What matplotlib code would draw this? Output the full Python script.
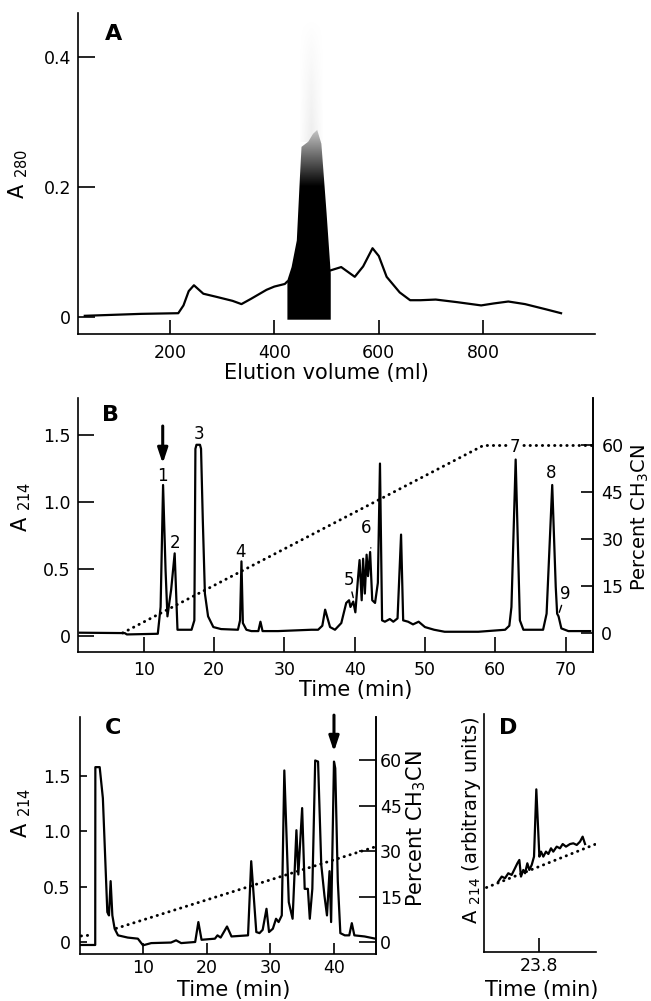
import numpy as np
import matplotlib
matplotlib.use('Agg')
import matplotlib.pyplot as plt
from matplotlib.patches import Polygon

# ---- panel A: gel filtration (A280 vs elution volume, ml)
a_ml = [37, 145, 216, 226, 236, 246, 264, 290, 320, 337, 355, 385, 400, 420, 425,
        508, 528, 554, 570, 588, 600, 615, 640, 660, 680, 709, 750, 796, 820, 848,
        880, 920, 949]
a_abs = [0.002, 0.005, 0.006, 0.018, 0.040, 0.049, 0.036, 0.031, 0.025, 0.020,
         0.028, 0.042, 0.047, 0.051, 0.055, 0.072, 0.077, 0.062, 0.078, 0.106,
         0.094, 0.062, 0.038, 0.026, 0.026, 0.027, 0.023, 0.018, 0.021, 0.024,
         0.020, 0.012, 0.006]
# pooled (shaded) fraction
frac_ml = [425, 425, 433, 443, 449, 452, 465, 474, 482, 490, 500, 508, 508]
frac_abs = [-0.004, 0.057, 0.077, 0.118, 0.216, 0.262, 0.270, 0.282, 0.288,
            0.267, 0.160, 0.067, -0.004]

# ---- panel B: HPLC, A214 vs time (min)
b_time = [0.9, 7.3, 7.6, 12.0, 12.4, 12.75, 13.1, 13.37, 13.9, 14.4, 14.8, 15.35,
          16.8, 17.2, 17.35, 17.5, 18.0, 18.15, 18.4, 18.7, 19.15, 19.9, 21.0,
          23.4, 23.7, 23.9, 24.1, 24.6, 25.3, 26.3, 26.6, 26.9, 29.1, 33.85, 34.8,
          35.4, 35.8, 36.5, 37.2, 38.1, 38.8, 39.2, 39.4, 39.8, 40.1, 40.5, 40.7,
          41.0, 41.2, 41.45, 41.7, 41.9, 42.2, 42.5, 42.9, 43.3, 43.6, 43.9, 44.3,
          45.0, 45.5, 46.1, 46.6, 46.9, 47.6, 48.3, 49.1, 50.0, 51.3, 52.8, 57.6,
          61.4, 62.0, 62.3, 62.9, 63.5, 64.0, 66.8, 67.3, 68.1, 68.6, 68.8, 69.0,
          69.4, 70.4, 73.5]
b_abs = [0.028, 0.025, 0.015, 0.02, 0.22, 1.13, 0.5, 0.15, 0.35, 0.62, 0.05, 0.05,
         0.05, 0.12, 1.40, 1.43, 1.43, 1.40, 0.87, 0.32, 0.15, 0.07, 0.055,
         0.05, 0.12, 0.56, 0.10, 0.05, 0.04, 0.04, 0.11, 0.04, 0.04, 0.05, 0.05,
         0.08, 0.20, 0.07, 0.05, 0.10, 0.25, 0.27, 0.22, 0.26, 0.18, 0.45, 0.57,
         0.27, 0.58, 0.32, 0.61, 0.45, 0.63, 0.27, 0.25, 0.4, 1.29, 0.12, 0.11,
         0.13, 0.11, 0.135, 0.76, 0.12, 0.11, 0.09, 0.11, 0.07, 0.05, 0.035, 0.035,
         0.05, 0.08, 0.22, 1.32, 0.12, 0.05, 0.05, 0.17, 1.13, 0.37, 0.17, 0.15,
         0.06, 0.04, 0.04]
grad_b_t = [7.0, 58.3, 73.9]
grad_b_pct = [0, 60, 60]
peak_names = ['1', '2', '3', '4', '5', '6', '7', '8', '9']
peak_t = [12.6, 14.4, 17.8, 23.8, 39.2, 41.7, 62.8, 67.9, 70.0]
peak_a = [1.20, 0.70, 1.51, 0.63, 0.42, 0.81, 1.41, 1.22, 0.32]
leader_t = [None, None, None, None, 39.8, 42.3, None, None, 69.1]
leader_a = [None, None, None, None, 0.29, 0.66, None, None, 0.18]

# ---- panel C: rechromatography of peak 1
c_time = [0.1, 2.5, 2.52, 3.2, 3.7, 4.4, 4.66, 4.92, 5.19, 5.55, 6.08, 7.6, 9.2,
          10.0, 11.3, 14.4, 15.2, 16.0, 18.2, 18.7, 19.2, 21.3, 21.7, 22.2, 23.2,
          23.9, 26.5, 27.0, 27.8, 28.3, 28.8, 29.4, 29.8, 30.4, 30.9, 31.3, 31.8,
          32.2, 32.9, 33.5, 34.1, 34.4, 35.0, 35.4, 35.9, 36.2, 36.6, 37.05, 37.5,
          38.0, 38.5, 38.9, 39.3, 39.55, 40.0, 40.2, 40.6, 41.0, 41.7, 42.4, 42.8,
          43.2, 44.8, 46.5]
c_abs = [-0.027, -0.027, 1.58, 1.58, 1.30, 0.27, 0.24, 0.55, 0.24, 0.12, 0.06,
         0.04, 0.03, -0.03, -0.01, -0.005, 0.015, -0.01, 0.0, 0.18, 0.02, 0.03,
         0.06, 0.04, 0.14, 0.05, 0.06, 0.73, 0.09, 0.08, 0.11, 0.30, 0.09, 0.12,
         0.21, 0.18, 0.24, 1.55, 0.36, 0.21, 1.01, 0.61, 1.21, 0.48, 0.48, 0.21,
         0.48, 1.64, 1.63, 0.70, 0.42, 0.24, 0.64, 0.18, 1.63, 1.57, 0.55, 0.08,
         0.06, 0.06, 0.17, 0.06, 0.05, 0.03]
grad_c1_t = [0.3, 2.0]
grad_c1_pct = [2.0, 2.3]
grad_c2_t = [5.8, 46.6]
grad_c2_pct = [4.5, 31.5]

# ---- panel D: final purity check
d_time = [23.428, 23.459, 23.489, 23.519, 23.55, 23.58, 23.602, 23.62, 23.635,
          23.656, 23.672, 23.693, 23.711, 23.733, 23.754, 23.775, 23.803, 23.818,
          23.839, 23.863, 23.885, 23.909, 23.93, 23.961, 23.991, 24.016, 24.046,
          24.083, 24.113, 24.144, 24.174, 24.198, 24.22]
d_abs = [0.295, 0.316, 0.309, 0.330, 0.323, 0.351, 0.372, 0.386, 0.316, 0.344,
         0.330, 0.372, 0.344, 0.365, 0.400, 0.683, 0.400, 0.421, 0.400, 0.421,
         0.411, 0.435, 0.421, 0.442, 0.435, 0.453, 0.442, 0.453, 0.456, 0.449,
         0.463, 0.484, 0.453]
d_base_t = [23.32, 24.33]
d_base = [0.27, 0.455]

plt.rcParams['font.family'] = ['DejaVu Sans']
plt.rcParams['mathtext.fontset'] = 'dejavusans'

W, H = 651.0, 1001.0
fig = plt.figure(figsize=(W / 100, H / 100), dpi=100)


def box(l, t, r, b):
    return [l / W, 1 - b / H, (r - l) / W, (b - t) / H]


def style(ax, keep):
    for s in ['left', 'right', 'top', 'bottom']:
        ax.spines[s].set_visible(s in keep)
        ax.spines[s].set_linewidth(1.2)
    ax.tick_params(direction='in', width=1.2, labelsize=12.5)


TRACE = dict(color='k', lw=1.6)
DOTS = dict(color='k', lw=2.1, ls=(0, (0.1, 2.0)), dash_capstyle='round')
LAB = 15

# ================= A
axA = fig.add_axes(box(78, 13, 595, 334))
style(axA, ('left', 'bottom'))
axA.plot(a_ml, a_abs, **TRACE)
poly = Polygon(np.column_stack([frac_ml, frac_abs]), closed=True, fc='none', ec='none')
axA.add_patch(poly)
rows = np.linspace(-0.005, 0.30, 200)
shade = np.clip((rows - 0.20) / 0.09, 0, 1) * 0.8
im = axA.imshow(np.tile(shade[:, None], (1, 2)), cmap='gray', vmin=0, vmax=1,
                origin='lower', extent=[420, 512, -0.005, 0.30], aspect='auto',
                interpolation='bilinear', zorder=3)
im.set_clip_path(poly)
# faint smear above the pooled peak
yy, xx = np.mgrid[0:1:100j, -1:1:40j]
smear = np.zeros((100, 40, 4))
smear[..., :3] = 0.55
smear[..., 3] = 0.16 * (1 - yy) * np.clip(1 - np.abs(xx), 0, 1)
axA.imshow(smear, origin='lower', extent=[448, 494, 0.27, 0.46], aspect='auto',
           interpolation='bilinear', zorder=1)
axA.set_xlim(24, 1014)
axA.set_ylim(-0.026, 0.468)
axA.set_xticks([200, 400, 600, 800])
axA.set_yticks([0, 0.2, 0.4], ['0', '0.2', '0.4'])
axA.tick_params(axis='x', length=10, pad=7)
axA.tick_params(axis='y', length=12, pad=5)
axA.set_xlabel('Elution volume (ml)', fontsize=LAB, va='center')
axA.xaxis.set_label_coords(0.48, -0.12)
axA.set_ylabel(r'A $_{\mathregular{280}}$', fontsize=LAB, va='center')
axA.yaxis.set_label_coords(-0.116, 0.50)
axA.text(0.068, 0.935, 'A', transform=axA.transAxes, fontsize=16,
         fontweight='bold', ha='center', va='center')

# ================= B
axB = fig.add_axes(box(78, 398, 593, 652))
axB2 = axB.twinx()
style(axB, ('left', 'bottom', 'right'))
style(axB2, ('right',))
axB.set_zorder(axB2.get_zorder() + 1)
axB.patch.set_visible(False)
axB.plot(b_time, b_abs, **TRACE)
axB2.plot(grad_b_t, grad_b_pct, **DOTS)
axB.set_xlim(0.65, 73.9)
axB.set_ylim(-0.116, 1.779)
axB2.set_ylim(-6.1, 75.2)
axB.set_xticks([10, 20, 30, 40, 50, 60, 70])
axB.set_yticks([0, 0.5, 1.0, 1.5], ['0', '0.5', '1.0', '1.5'])
axB2.set_yticks([0, 15, 30, 45, 60])
axB.tick_params(axis='x', length=11, pad=6.5)
axB.tick_params(axis='y', length=11.5, pad=5.4)
axB2.tick_params(axis='y', length=9, pad=6)
for name, t, a, lt, la in zip(peak_names, peak_t, peak_a, leader_t, leader_a):
    kw = dict(fontsize=12, ha='center', va='center')
    if name == '7':
        kw['bbox'] = dict(fc='white', ec='none', pad=1.5)
    if lt is None:
        axB.text(t, a, name, **kw)
    else:
        axB.annotate(name, xy=(lt, la), xytext=(t, a),
                     arrowprops=dict(arrowstyle='-', lw=1.0, color='k',
                                     shrinkA=6, shrinkB=0), **kw)
axB.annotate('', xy=(12.7, 1.29), xytext=(12.7, 1.57),
             arrowprops=dict(arrowstyle='-|>,head_width=0.3,head_length=0.9',
                             lw=2.2, color='k', shrinkA=0, shrinkB=0))
axB.set_xlabel('Time (min)', fontsize=LAB, va='center')
axB.xaxis.set_label_coords(0.54, -0.15)
axB.set_ylabel(r'A $_{\mathregular{214}}$', fontsize=LAB, va='center')
axB.yaxis.set_label_coords(-0.111, 0.57)
axB2.set_ylabel(r'Percent CH$_{\mathregular{3}}$CN', fontsize=14, va='center',
                rotation=90)
axB2.yaxis.set_label_coords(1.092, 0.53)
axB.text(0.064, 0.933, 'B', transform=axB.transAxes, fontsize=16,
         fontweight='bold', ha='center', va='center')

# ================= C
axC = fig.add_axes(box(79.5, 717, 376, 953.5))
axC2 = axC.twinx()
style(axC, ('left', 'bottom', 'right'))
style(axC2, ('right',))
axC.set_zorder(axC2.get_zorder() + 1)
axC.patch.set_visible(False)
axC.plot(c_time, c_abs, **TRACE)
axC2.plot(grad_c1_t, grad_c1_pct, **DOTS)
axC2.plot(grad_c2_t, grad_c2_pct, **DOTS)
axC.set_xlim(0.03, 46.6)
axC.set_ylim(-0.104, 2.033)
axC2.set_ylim(-3.8, 74.3)
axC.set_xticks([10, 20, 30, 40])
axC.set_yticks([0, 0.5, 1.0, 1.5], ['0', '0.5', '1.0', '1.5'])
axC2.set_yticks([0, 15, 30, 45, 60])
axC.tick_params(axis='x', length=8, pad=4)
axC.tick_params(axis='y', length=5, pad=6.5)
axC2.tick_params(axis='y', length=12, pad=3)
axC.annotate('', xy=(40.0, 1.72), xytext=(40.0, 2.05),
             arrowprops=dict(arrowstyle='-|>,head_width=0.3,head_length=0.9',
                             lw=2.2, color='k', shrinkA=0, shrinkB=0),
             annotation_clip=False)
axC.set_xlabel('Time (min)', fontsize=LAB, va='center')
axC.xaxis.set_label_coords(0.52, -0.154)
axC.set_ylabel(r'A $_{\mathregular{214}}$', fontsize=LAB, va='center')
axC.yaxis.set_label_coords(-0.198, 0.594)
axC2.set_ylabel(r'Percent CH$_{\mathregular{3}}$CN', fontsize=LAB, va='center',
                rotation=90)
axC2.yaxis.set_label_coords(1.135, 0.53)
axC.text(0.113, 0.953, 'C', transform=axC.transAxes, fontsize=16,
         fontweight='bold', ha='center', va='center')

# ================= D
axD = fig.add_axes(box(484.3, 714, 596, 951.7))
style(axD, ('left', 'bottom'))
axD.plot(d_time, d_abs, **TRACE)
axD.plot(d_base_t, d_base, **DOTS)
axD.set_xlim(23.3, 24.32)
axD.set_ylim(0, 1)
axD.set_xticks([23.8], ['23.8'])
axD.set_yticks([])
axD.tick_params(axis='x', length=10, pad=4)
axD.set_xlabel('Time (min)', fontsize=LAB, va='center')
axD.xaxis.set_label_coords(0.51, -0.161)
axD.set_ylabel(r'A $_{\mathregular{214}}$ (arbitrary units)', fontsize=14,
               va='center')
axD.yaxis.set_label_coords(-0.113, 0.554)
axD.text(0.212, 0.941, 'D', transform=axD.transAxes, fontsize=16,
         fontweight='bold', ha='center', va='center')

fig.savefig('out.png', dpi=100, facecolor='white')
